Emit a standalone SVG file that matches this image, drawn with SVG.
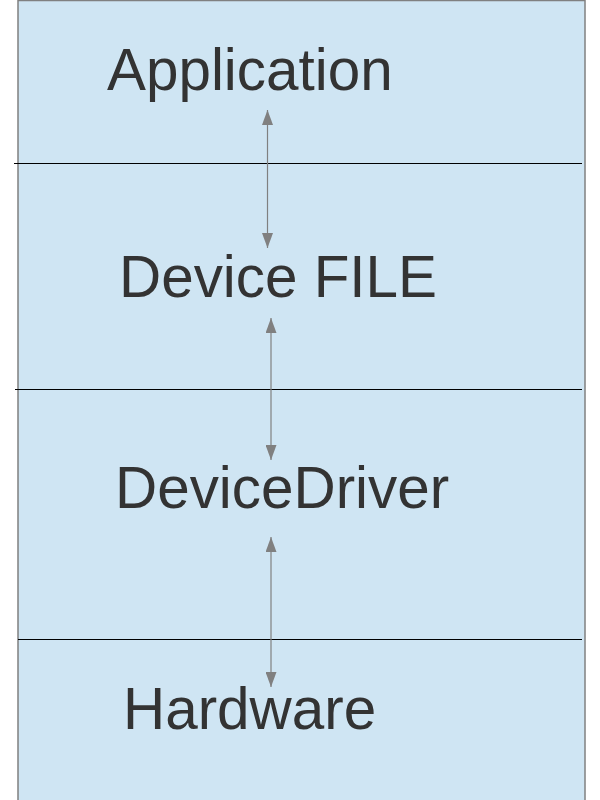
<svg xmlns="http://www.w3.org/2000/svg" width="600" height="800" viewBox="0 0 600 800">
<style>
.lbl{font-family:"Liberation Sans",Arial,sans-serif;font-size:58.4px;fill:#333333}
.sep{stroke:#000000;stroke-width:1}
.con{stroke:#808080;stroke-width:1.2;fill:none;marker-start:url(#ah);marker-end:url(#ah)}
</style>
<defs>
<marker id="ah" viewBox="0 0 15 11" refX="15" refY="5.5" markerWidth="15" markerHeight="11" markerUnits="userSpaceOnUse" orient="auto-start-reverse">
<path d="M0,0 L15,5.5 L0,11 Z" fill="#808080"/>
</marker>
</defs>
<rect x="18" y="0.5" width="567" height="810" fill="#cfe5f3" stroke="#808080" stroke-width="1.5"/>
<g id="separators">
<line class="sep" x1="14" y1="163.5" x2="582" y2="163.5"/>
<line class="sep" x1="15" y1="389.5" x2="582" y2="389.5"/>
<line class="sep" x1="18" y1="639.5" x2="582" y2="639.5"/>
</g>
<g id="node-application"><text class="lbl" x="107" y="90">Application</text></g>
<g id="node-devicefile"><text class="lbl" x="119" y="297">Device FILE</text></g>
<g id="node-devicedriver"><text class="lbl" x="115" y="508">DeviceDriver</text></g>
<g id="node-hardware"><text class="lbl" x="123" y="729">Hardware</text></g>
<g id="connectors">
<line class="con" x1="267.5" y1="110" x2="267.5" y2="248"/>
<line class="con" x1="271" y1="318" x2="271" y2="460"/>
<line class="con" x1="271" y1="537" x2="271" y2="687"/>
</g>
</svg>
